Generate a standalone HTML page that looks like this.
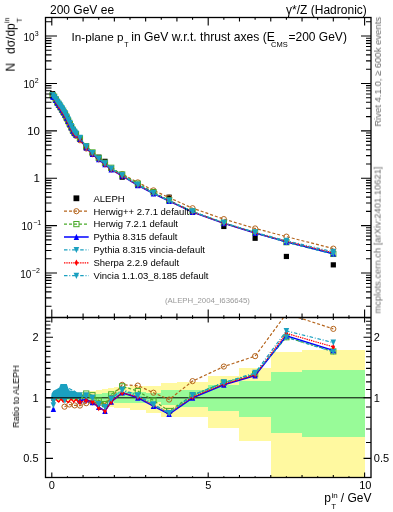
<!DOCTYPE html><html><head><meta charset="utf-8"><style>html,body{margin:0;padding:0;background:#fff;width:393px;height:512px;overflow:hidden}svg{display:block}text{will-change:transform}</style></head><body>
<svg width="393" height="512" viewBox="0 0 393 512" font-family="Liberation Sans, sans-serif">
<defs><clipPath id="cm"><rect x="45.5" y="17.5" width="325.5" height="300.0"/></clipPath>
<clipPath id="cr"><rect x="45.5" y="317.5" width="325.5" height="160.0"/></clipPath></defs>
<rect width="393" height="512" fill="#fff"/>
<g clip-path="url(#cr)" shape-rendering="crispEdges"><rect x="51.80" y="394.37" width="3.13" height="7.00" fill="#FFF9A0"/><rect x="54.93" y="394.37" width="3.13" height="7.00" fill="#FFF9A0"/><rect x="58.06" y="394.37" width="3.13" height="7.00" fill="#FFF9A0"/><rect x="61.18" y="394.37" width="3.13" height="7.00" fill="#FFF9A0"/><rect x="64.31" y="394.37" width="3.13" height="7.00" fill="#FFF9A0"/><rect x="67.44" y="394.37" width="3.13" height="7.00" fill="#FFF9A0"/><rect x="70.57" y="394.37" width="3.13" height="7.00" fill="#FFF9A0"/><rect x="73.70" y="394.37" width="3.13" height="7.00" fill="#FFF9A0"/><rect x="76.82" y="391.88" width="6.26" height="11.32" fill="#FFF9A0"/><rect x="83.08" y="391.88" width="6.26" height="11.32" fill="#FFF9A0"/><rect x="89.34" y="391.48" width="6.26" height="12.20" fill="#FFF9A0"/><rect x="95.59" y="390.27" width="6.26" height="15.11" fill="#FFF9A0"/><rect x="101.85" y="388.68" width="6.26" height="18.04" fill="#FFF9A0"/><rect x="108.10" y="387.89" width="6.26" height="18.83" fill="#FFF9A0"/><rect x="114.36" y="386.73" width="15.64" height="21.75" fill="#FFF9A0"/><rect x="130.00" y="386.34" width="15.64" height="23.63" fill="#FFF9A0"/><rect x="145.64" y="385.73" width="15.64" height="27.00" fill="#FFF9A0"/><rect x="161.28" y="382.81" width="15.64" height="34.39" fill="#FFF9A0"/><rect x="176.92" y="381.50" width="31.28" height="35.05" fill="#FFF9A0"/><rect x="208.20" y="375.54" width="31.28" height="52.33" fill="#FFF9A0"/><rect x="239.48" y="368.38" width="31.28" height="72.63" fill="#FFF9A0"/><rect x="270.76" y="351.92" width="31.28" height="128.20" fill="#FFF9A0"/><rect x="302.04" y="350.13" width="62.56" height="129.99" fill="#FFF9A0"/><rect x="51.80" y="396.07" width="3.13" height="3.50" fill="#98FB98"/><rect x="54.93" y="396.07" width="3.13" height="3.50" fill="#98FB98"/><rect x="58.06" y="396.07" width="3.13" height="3.50" fill="#98FB98"/><rect x="61.18" y="396.07" width="3.13" height="3.50" fill="#98FB98"/><rect x="64.31" y="396.07" width="3.13" height="3.50" fill="#98FB98"/><rect x="67.44" y="396.07" width="3.13" height="3.50" fill="#98FB98"/><rect x="70.57" y="396.07" width="3.13" height="3.50" fill="#98FB98"/><rect x="73.70" y="396.07" width="3.13" height="3.50" fill="#98FB98"/><rect x="76.82" y="395.22" width="6.26" height="5.25" fill="#98FB98"/><rect x="83.08" y="395.22" width="6.26" height="5.25" fill="#98FB98"/><rect x="89.34" y="394.79" width="6.26" height="6.12" fill="#98FB98"/><rect x="95.59" y="393.53" width="6.26" height="8.29" fill="#98FB98"/><rect x="101.85" y="392.71" width="6.26" height="9.58" fill="#98FB98"/><rect x="108.10" y="392.71" width="6.26" height="9.58" fill="#98FB98"/><rect x="114.36" y="392.29" width="15.64" height="10.45" fill="#98FB98"/><rect x="130.00" y="392.29" width="15.64" height="10.45" fill="#98FB98"/><rect x="145.64" y="393.04" width="15.64" height="9.43" fill="#98FB98"/><rect x="161.28" y="389.87" width="15.64" height="15.41" fill="#98FB98"/><rect x="176.92" y="390.43" width="31.28" height="16.49" fill="#98FB98"/><rect x="208.20" y="384.97" width="31.28" height="26.11" fill="#98FB98"/><rect x="239.48" y="380.56" width="31.28" height="36.10" fill="#98FB98"/><rect x="270.76" y="371.82" width="31.28" height="61.51" fill="#98FB98"/><rect x="302.04" y="370.02" width="62.56" height="67.21" fill="#98FB98"/></g>
<line x1="45.5" y1="397.80" x2="371.0" y2="397.80" stroke="#000" stroke-width="1"/>
<g clip-path="url(#cm)"><rect x="49.98" y="91.04" width="5.2" height="5.2" fill="#000"/><rect x="51.55" y="93.90" width="5.2" height="5.2" fill="#000"/><rect x="53.11" y="96.76" width="5.2" height="5.2" fill="#000"/><rect x="54.67" y="99.52" width="5.2" height="5.2" fill="#000"/><rect x="56.24" y="101.85" width="5.2" height="5.2" fill="#000"/><rect x="57.80" y="104.17" width="5.2" height="5.2" fill="#000"/><rect x="59.37" y="106.68" width="5.2" height="5.2" fill="#000"/><rect x="60.93" y="109.20" width="5.2" height="5.2" fill="#000"/><rect x="62.49" y="111.72" width="5.2" height="5.2" fill="#000"/><rect x="64.06" y="114.73" width="5.2" height="5.2" fill="#000"/><rect x="65.62" y="117.93" width="5.2" height="5.2" fill="#000"/><rect x="67.19" y="121.12" width="5.2" height="5.2" fill="#000"/><rect x="68.75" y="124.32" width="5.2" height="5.2" fill="#000"/><rect x="70.31" y="127.51" width="5.2" height="5.2" fill="#000"/><rect x="71.88" y="129.79" width="5.2" height="5.2" fill="#000"/><rect x="73.44" y="131.52" width="5.2" height="5.2" fill="#000"/><rect x="77.35" y="135.83" width="5.2" height="5.2" fill="#000"/><rect x="83.61" y="144.60" width="5.2" height="5.2" fill="#000"/><rect x="89.86" y="150.43" width="5.2" height="5.2" fill="#000"/><rect x="96.12" y="154.60" width="5.2" height="5.2" fill="#000"/><rect x="102.38" y="158.73" width="5.2" height="5.2" fill="#000"/><rect x="108.63" y="165.98" width="5.2" height="5.2" fill="#000"/><rect x="119.58" y="174.56" width="5.2" height="5.2" fill="#000"/><rect x="135.22" y="182.67" width="5.2" height="5.2" fill="#000"/><rect x="150.86" y="188.97" width="5.2" height="5.2" fill="#000"/><rect x="166.50" y="194.61" width="5.2" height="5.2" fill="#000"/><rect x="189.96" y="209.54" width="5.2" height="5.2" fill="#000"/><rect x="221.24" y="223.86" width="5.2" height="5.2" fill="#000"/><rect x="252.52" y="235.66" width="5.2" height="5.2" fill="#000"/><rect x="283.80" y="253.86" width="5.2" height="5.2" fill="#000"/><rect x="330.72" y="262.25" width="5.2" height="5.2" fill="#000"/></g>
<g clip-path="url(#cm)"><path d="M52.58,94.70 L54.15,97.34 L55.71,100.20 L57.27,103.17 L58.84,105.50 L60.40,108.05 L61.97,110.77 L63.53,113.51 L65.09,116.26 L66.66,119.50 L68.22,122.70 L69.79,125.66 L71.35,128.86 L72.91,132.05 L74.48,134.11 L76.04,135.84 L79.95,140.26 L86.21,148.48 L92.46,154.09 L98.72,158.48 L104.98,162.82 L111.23,168.58 L122.18,174.10 L137.82,182.39 L153.46,190.37 L169.10,197.63 L192.56,208.22 L223.84,219.09 L255.12,228.45 L286.40,236.63 L333.32,248.62" fill="none" stroke="#B5651D" stroke-width="1.2" stroke-dasharray="3,2"/><circle cx="52.58" cy="94.70" r="2.6" fill="none" stroke="#B5651D" stroke-width="1"/><circle cx="54.15" cy="97.34" r="2.6" fill="none" stroke="#B5651D" stroke-width="1"/><circle cx="55.71" cy="100.20" r="2.6" fill="none" stroke="#B5651D" stroke-width="1"/><circle cx="57.27" cy="103.17" r="2.6" fill="none" stroke="#B5651D" stroke-width="1"/><circle cx="58.84" cy="105.50" r="2.6" fill="none" stroke="#B5651D" stroke-width="1"/><circle cx="60.40" cy="108.05" r="2.6" fill="none" stroke="#B5651D" stroke-width="1"/><circle cx="61.97" cy="110.77" r="2.6" fill="none" stroke="#B5651D" stroke-width="1"/><circle cx="63.53" cy="113.51" r="2.6" fill="none" stroke="#B5651D" stroke-width="1"/><circle cx="65.09" cy="116.26" r="2.6" fill="none" stroke="#B5651D" stroke-width="1"/><circle cx="66.66" cy="119.50" r="2.6" fill="none" stroke="#B5651D" stroke-width="1"/><circle cx="68.22" cy="122.70" r="2.6" fill="none" stroke="#B5651D" stroke-width="1"/><circle cx="69.79" cy="125.66" r="2.6" fill="none" stroke="#B5651D" stroke-width="1"/><circle cx="71.35" cy="128.86" r="2.6" fill="none" stroke="#B5651D" stroke-width="1"/><circle cx="72.91" cy="132.05" r="2.6" fill="none" stroke="#B5651D" stroke-width="1"/><circle cx="74.48" cy="134.11" r="2.6" fill="none" stroke="#B5651D" stroke-width="1"/><circle cx="76.04" cy="135.84" r="2.6" fill="none" stroke="#B5651D" stroke-width="1"/><circle cx="79.95" cy="140.26" r="2.6" fill="none" stroke="#B5651D" stroke-width="1"/><circle cx="86.21" cy="148.48" r="2.6" fill="none" stroke="#B5651D" stroke-width="1"/><circle cx="92.46" cy="154.09" r="2.6" fill="none" stroke="#B5651D" stroke-width="1"/><circle cx="98.72" cy="158.48" r="2.6" fill="none" stroke="#B5651D" stroke-width="1"/><circle cx="104.98" cy="162.82" r="2.6" fill="none" stroke="#B5651D" stroke-width="1"/><circle cx="111.23" cy="168.58" r="2.6" fill="none" stroke="#B5651D" stroke-width="1"/><circle cx="122.18" cy="174.10" r="2.6" fill="none" stroke="#B5651D" stroke-width="1"/><circle cx="137.82" cy="182.39" r="2.6" fill="none" stroke="#B5651D" stroke-width="1"/><circle cx="153.46" cy="190.37" r="2.6" fill="none" stroke="#B5651D" stroke-width="1"/><circle cx="169.10" cy="197.63" r="2.6" fill="none" stroke="#B5651D" stroke-width="1"/><circle cx="192.56" cy="208.22" r="2.6" fill="none" stroke="#B5651D" stroke-width="1"/><circle cx="223.84" cy="219.09" r="2.6" fill="none" stroke="#B5651D" stroke-width="1"/><circle cx="255.12" cy="228.45" r="2.6" fill="none" stroke="#B5651D" stroke-width="1"/><circle cx="286.40" cy="236.63" r="2.6" fill="none" stroke="#B5651D" stroke-width="1"/><circle cx="333.32" cy="248.62" r="2.6" fill="none" stroke="#B5651D" stroke-width="1"/></g>
<g clip-path="url(#cm)"><path d="M52.58,95.13 L54.15,96.71 L55.71,99.56 L57.27,102.32 L58.84,104.65 L60.40,106.98 L61.97,109.49 L63.53,112.01 L65.09,114.52 L66.66,117.54 L68.22,120.74 L69.79,123.93 L71.35,127.12 L72.91,130.32 L74.48,132.60 L76.04,134.33 L79.95,138.43 L86.21,146.20 L92.46,152.42 L98.72,157.83 L104.98,162.82 L111.23,167.77 L122.18,174.46 L137.82,183.68 L153.46,192.20 L169.10,200.31 L192.56,211.53 L223.84,222.87 L255.12,232.70 L286.40,242.19 L333.32,253.93" fill="none" stroke="#4AAA2A" stroke-width="1.2" stroke-dasharray="3,2"/><rect x="49.98" y="92.53" width="5.2" height="5.2" fill="none" stroke="#4AAA2A" stroke-width="1"/><rect x="51.55" y="94.11" width="5.2" height="5.2" fill="none" stroke="#4AAA2A" stroke-width="1"/><rect x="53.11" y="96.96" width="5.2" height="5.2" fill="none" stroke="#4AAA2A" stroke-width="1"/><rect x="54.67" y="99.72" width="5.2" height="5.2" fill="none" stroke="#4AAA2A" stroke-width="1"/><rect x="56.24" y="102.05" width="5.2" height="5.2" fill="none" stroke="#4AAA2A" stroke-width="1"/><rect x="57.80" y="104.38" width="5.2" height="5.2" fill="none" stroke="#4AAA2A" stroke-width="1"/><rect x="59.37" y="106.89" width="5.2" height="5.2" fill="none" stroke="#4AAA2A" stroke-width="1"/><rect x="60.93" y="109.41" width="5.2" height="5.2" fill="none" stroke="#4AAA2A" stroke-width="1"/><rect x="62.49" y="111.92" width="5.2" height="5.2" fill="none" stroke="#4AAA2A" stroke-width="1"/><rect x="64.06" y="114.94" width="5.2" height="5.2" fill="none" stroke="#4AAA2A" stroke-width="1"/><rect x="65.62" y="118.14" width="5.2" height="5.2" fill="none" stroke="#4AAA2A" stroke-width="1"/><rect x="67.19" y="121.33" width="5.2" height="5.2" fill="none" stroke="#4AAA2A" stroke-width="1"/><rect x="68.75" y="124.52" width="5.2" height="5.2" fill="none" stroke="#4AAA2A" stroke-width="1"/><rect x="70.31" y="127.72" width="5.2" height="5.2" fill="none" stroke="#4AAA2A" stroke-width="1"/><rect x="71.88" y="130.00" width="5.2" height="5.2" fill="none" stroke="#4AAA2A" stroke-width="1"/><rect x="73.44" y="131.73" width="5.2" height="5.2" fill="none" stroke="#4AAA2A" stroke-width="1"/><rect x="77.35" y="135.83" width="5.2" height="5.2" fill="none" stroke="#4AAA2A" stroke-width="1"/><rect x="83.61" y="143.60" width="5.2" height="5.2" fill="none" stroke="#4AAA2A" stroke-width="1"/><rect x="89.86" y="149.82" width="5.2" height="5.2" fill="none" stroke="#4AAA2A" stroke-width="1"/><rect x="96.12" y="155.23" width="5.2" height="5.2" fill="none" stroke="#4AAA2A" stroke-width="1"/><rect x="102.38" y="160.22" width="5.2" height="5.2" fill="none" stroke="#4AAA2A" stroke-width="1"/><rect x="108.63" y="165.17" width="5.2" height="5.2" fill="none" stroke="#4AAA2A" stroke-width="1"/><rect x="119.58" y="171.86" width="5.2" height="5.2" fill="none" stroke="#4AAA2A" stroke-width="1"/><rect x="135.22" y="181.08" width="5.2" height="5.2" fill="none" stroke="#4AAA2A" stroke-width="1"/><rect x="150.86" y="189.60" width="5.2" height="5.2" fill="none" stroke="#4AAA2A" stroke-width="1"/><rect x="166.50" y="197.71" width="5.2" height="5.2" fill="none" stroke="#4AAA2A" stroke-width="1"/><rect x="189.96" y="208.93" width="5.2" height="5.2" fill="none" stroke="#4AAA2A" stroke-width="1"/><rect x="221.24" y="220.27" width="5.2" height="5.2" fill="none" stroke="#4AAA2A" stroke-width="1"/><rect x="252.52" y="230.10" width="5.2" height="5.2" fill="none" stroke="#4AAA2A" stroke-width="1"/><rect x="283.80" y="239.59" width="5.2" height="5.2" fill="none" stroke="#4AAA2A" stroke-width="1"/><rect x="330.72" y="251.33" width="5.2" height="5.2" fill="none" stroke="#4AAA2A" stroke-width="1"/></g>
<g clip-path="url(#cm)"><path d="M52.58,96.51 L54.15,97.13 L55.71,99.98 L57.27,102.75 L58.84,105.07 L60.40,107.40 L61.97,109.91 L63.53,112.43 L65.09,114.94 L66.66,117.96 L68.22,121.16 L69.79,124.35 L71.35,127.54 L72.91,130.74 L74.48,133.02 L76.04,134.75 L79.95,139.06 L86.21,147.62 L92.46,154.09 L98.72,159.37 L104.98,164.43 L111.23,169.53 L122.18,175.96 L137.82,185.27 L153.46,193.51 L169.10,201.05 L192.56,212.14 L223.84,223.40 L255.12,233.02 L286.40,241.88 L333.32,253.69" fill="none" stroke="#0000FF" stroke-width="1.5"/><path d="M52.58,93.21L55.28,99.41L49.88,99.41Z" fill="#0000FF"/><path d="M54.15,93.83L56.85,100.03L51.45,100.03Z" fill="#0000FF"/><path d="M55.71,96.68L58.41,102.88L53.01,102.88Z" fill="#0000FF"/><path d="M57.27,99.45L59.97,105.65L54.57,105.65Z" fill="#0000FF"/><path d="M58.84,101.77L61.54,107.97L56.14,107.97Z" fill="#0000FF"/><path d="M60.40,104.10L63.10,110.30L57.70,110.30Z" fill="#0000FF"/><path d="M61.97,106.61L64.67,112.81L59.27,112.81Z" fill="#0000FF"/><path d="M63.53,109.13L66.23,115.33L60.83,115.33Z" fill="#0000FF"/><path d="M65.09,111.64L67.79,117.84L62.39,117.84Z" fill="#0000FF"/><path d="M66.66,114.66L69.36,120.86L63.96,120.86Z" fill="#0000FF"/><path d="M68.22,117.86L70.92,124.06L65.52,124.06Z" fill="#0000FF"/><path d="M69.79,121.05L72.49,127.25L67.09,127.25Z" fill="#0000FF"/><path d="M71.35,124.24L74.05,130.44L68.65,130.44Z" fill="#0000FF"/><path d="M72.91,127.44L75.61,133.64L70.21,133.64Z" fill="#0000FF"/><path d="M74.48,129.72L77.18,135.92L71.78,135.92Z" fill="#0000FF"/><path d="M76.04,131.45L78.74,137.65L73.34,137.65Z" fill="#0000FF"/><path d="M79.95,135.76L82.65,141.96L77.25,141.96Z" fill="#0000FF"/><path d="M86.21,144.32L88.91,150.52L83.51,150.52Z" fill="#0000FF"/><path d="M92.46,150.79L95.16,156.99L89.76,156.99Z" fill="#0000FF"/><path d="M98.72,156.07L101.42,162.27L96.02,162.27Z" fill="#0000FF"/><path d="M104.98,161.13L107.68,167.33L102.28,167.33Z" fill="#0000FF"/><path d="M111.23,166.23L113.93,172.43L108.53,172.43Z" fill="#0000FF"/><path d="M122.18,172.66L124.88,178.86L119.48,178.86Z" fill="#0000FF"/><path d="M137.82,181.97L140.52,188.17L135.12,188.17Z" fill="#0000FF"/><path d="M153.46,190.21L156.16,196.41L150.76,196.41Z" fill="#0000FF"/><path d="M169.10,197.75L171.80,203.95L166.40,203.95Z" fill="#0000FF"/><path d="M192.56,208.84L195.26,215.04L189.86,215.04Z" fill="#0000FF"/><path d="M223.84,220.10L226.54,226.30L221.14,226.30Z" fill="#0000FF"/><path d="M255.12,229.72L257.82,235.92L252.42,235.92Z" fill="#0000FF"/><path d="M286.40,238.58L289.10,244.78L283.70,244.78Z" fill="#0000FF"/><path d="M333.32,250.39L336.02,256.59L330.62,256.59Z" fill="#0000FF"/></g>
<g clip-path="url(#cm)"><path d="M52.58,95.13 L54.15,96.91 L55.71,100.20 L57.27,102.53 L58.84,105.50 L60.40,107.19 L61.97,110.12 L63.53,112.43 L65.09,115.37 L66.66,117.75 L68.22,121.58 L69.79,124.35 L71.35,127.97 L72.91,130.74 L74.48,133.45 L76.04,134.96 L79.95,139.49 L86.21,147.83 L92.46,153.98 L98.72,159.60 L104.98,164.43 L111.23,169.53 L122.18,175.96 L137.82,185.06 L153.46,193.29 L169.10,200.80 L192.56,211.94 L223.84,223.22 L255.12,232.86 L286.40,241.29 L333.32,252.86" fill="none" stroke="#FF0000" stroke-width="1.2" stroke-dasharray="1.4,0.9"/><path d="M52.58,91.93L54.38,95.13L52.58,98.33L50.78,95.13Z" fill="#FF0000"/><path d="M54.15,93.71L55.95,96.91L54.15,100.11L52.35,96.91Z" fill="#FF0000"/><path d="M55.71,97.00L57.51,100.20L55.71,103.40L53.91,100.20Z" fill="#FF0000"/><path d="M57.27,99.33L59.07,102.53L57.27,105.73L55.47,102.53Z" fill="#FF0000"/><path d="M58.84,102.30L60.64,105.50L58.84,108.70L57.04,105.50Z" fill="#FF0000"/><path d="M60.40,103.99L62.20,107.19L60.40,110.39L58.60,107.19Z" fill="#FF0000"/><path d="M61.97,106.92L63.77,110.12L61.97,113.32L60.17,110.12Z" fill="#FF0000"/><path d="M63.53,109.23L65.33,112.43L63.53,115.63L61.73,112.43Z" fill="#FF0000"/><path d="M65.09,112.17L66.89,115.37L65.09,118.57L63.29,115.37Z" fill="#FF0000"/><path d="M66.66,114.55L68.46,117.75L66.66,120.95L64.86,117.75Z" fill="#FF0000"/><path d="M68.22,118.38L70.02,121.58L68.22,124.78L66.42,121.58Z" fill="#FF0000"/><path d="M69.79,121.15L71.59,124.35L69.79,127.55L67.99,124.35Z" fill="#FF0000"/><path d="M71.35,124.77L73.15,127.97L71.35,131.17L69.55,127.97Z" fill="#FF0000"/><path d="M72.91,127.54L74.71,130.74L72.91,133.94L71.11,130.74Z" fill="#FF0000"/><path d="M74.48,130.25L76.28,133.45L74.48,136.65L72.68,133.45Z" fill="#FF0000"/><path d="M76.04,131.76L77.84,134.96L76.04,138.16L74.24,134.96Z" fill="#FF0000"/><path d="M79.95,136.29L81.75,139.49L79.95,142.69L78.15,139.49Z" fill="#FF0000"/><path d="M86.21,144.63L88.01,147.83L86.21,151.03L84.41,147.83Z" fill="#FF0000"/><path d="M92.46,150.78L94.26,153.98L92.46,157.18L90.66,153.98Z" fill="#FF0000"/><path d="M98.72,156.40L100.52,159.60L98.72,162.80L96.92,159.60Z" fill="#FF0000"/><path d="M104.98,161.23L106.78,164.43L104.98,167.63L103.18,164.43Z" fill="#FF0000"/><path d="M111.23,166.33L113.03,169.53L111.23,172.73L109.43,169.53Z" fill="#FF0000"/><path d="M122.18,172.76L123.98,175.96L122.18,179.16L120.38,175.96Z" fill="#FF0000"/><path d="M137.82,181.86L139.62,185.06L137.82,188.26L136.02,185.06Z" fill="#FF0000"/><path d="M153.46,190.09L155.26,193.29L153.46,196.49L151.66,193.29Z" fill="#FF0000"/><path d="M169.10,197.60L170.90,200.80L169.10,204.00L167.30,200.80Z" fill="#FF0000"/><path d="M192.56,208.74L194.36,211.94L192.56,215.14L190.76,211.94Z" fill="#FF0000"/><path d="M223.84,220.02L225.64,223.22L223.84,226.42L222.04,223.22Z" fill="#FF0000"/><path d="M255.12,229.66L256.92,232.86L255.12,236.06L253.32,232.86Z" fill="#FF0000"/><path d="M286.40,238.09L288.20,241.29L286.40,244.49L284.60,241.29Z" fill="#FF0000"/><path d="M333.32,249.66L335.12,252.86L333.32,256.06L331.52,252.86Z" fill="#FF0000"/></g>
<g clip-path="url(#cm)"><path d="M52.58,95.81 L54.15,97.34 L55.71,99.56 L57.27,102.12 L58.84,104.24 L60.40,106.57 L61.97,109.08 L63.53,111.59 L65.09,114.11 L66.66,117.13 L68.22,120.32 L69.79,123.52 L71.35,126.71 L72.91,129.91 L74.48,132.19 L76.04,133.91 L79.95,138.23 L86.21,146.80 L92.46,153.03 L98.72,158.70 L104.98,163.50 L111.23,168.79 L122.18,175.39 L137.82,184.86 L153.46,193.29 L169.10,200.80 L192.56,211.53 L223.84,222.87 L255.12,232.39 L286.40,240.70 L333.32,251.85" fill="none" stroke="#1AA0C0" stroke-width="1.2" stroke-dasharray="3.5,1.8,1,1.8"/><path d="M49.78,92.81L55.38,92.81L52.58,99.01Z" fill="#1AA0C0"/><path d="M51.35,94.34L56.95,94.34L54.15,100.54Z" fill="#1AA0C0"/><path d="M52.91,96.56L58.51,96.56L55.71,102.76Z" fill="#1AA0C0"/><path d="M54.47,99.12L60.07,99.12L57.27,105.32Z" fill="#1AA0C0"/><path d="M56.04,101.24L61.64,101.24L58.84,107.44Z" fill="#1AA0C0"/><path d="M57.60,103.57L63.20,103.57L60.40,109.77Z" fill="#1AA0C0"/><path d="M59.17,106.08L64.77,106.08L61.97,112.28Z" fill="#1AA0C0"/><path d="M60.73,108.59L66.33,108.59L63.53,114.79Z" fill="#1AA0C0"/><path d="M62.29,111.11L67.89,111.11L65.09,117.31Z" fill="#1AA0C0"/><path d="M63.86,114.13L69.46,114.13L66.66,120.33Z" fill="#1AA0C0"/><path d="M65.42,117.32L71.02,117.32L68.22,123.52Z" fill="#1AA0C0"/><path d="M66.99,120.52L72.59,120.52L69.79,126.72Z" fill="#1AA0C0"/><path d="M68.55,123.71L74.15,123.71L71.35,129.91Z" fill="#1AA0C0"/><path d="M70.11,126.91L75.71,126.91L72.91,133.11Z" fill="#1AA0C0"/><path d="M71.68,129.19L77.28,129.19L74.48,135.39Z" fill="#1AA0C0"/><path d="M73.24,130.91L78.84,130.91L76.04,137.11Z" fill="#1AA0C0"/><path d="M77.15,135.23L82.75,135.23L79.95,141.43Z" fill="#1AA0C0"/><path d="M83.41,143.80L89.01,143.80L86.21,150.00Z" fill="#1AA0C0"/><path d="M89.66,150.03L95.26,150.03L92.46,156.23Z" fill="#1AA0C0"/><path d="M95.92,155.70L101.52,155.70L98.72,161.90Z" fill="#1AA0C0"/><path d="M102.18,160.50L107.78,160.50L104.98,166.70Z" fill="#1AA0C0"/><path d="M108.43,165.79L114.03,165.79L111.23,171.99Z" fill="#1AA0C0"/><path d="M119.38,172.39L124.98,172.39L122.18,178.59Z" fill="#1AA0C0"/><path d="M135.02,181.86L140.62,181.86L137.82,188.06Z" fill="#1AA0C0"/><path d="M150.66,190.29L156.26,190.29L153.46,196.49Z" fill="#1AA0C0"/><path d="M166.30,197.80L171.90,197.80L169.10,204.00Z" fill="#1AA0C0"/><path d="M189.76,208.53L195.36,208.53L192.56,214.73Z" fill="#1AA0C0"/><path d="M221.04,219.87L226.64,219.87L223.84,226.07Z" fill="#1AA0C0"/><path d="M252.32,229.39L257.92,229.39L255.12,235.59Z" fill="#1AA0C0"/><path d="M283.60,237.70L289.20,237.70L286.40,243.90Z" fill="#1AA0C0"/><path d="M330.52,248.85L336.12,248.85L333.32,255.05Z" fill="#1AA0C0"/></g>
<g clip-path="url(#cm)"><path d="M52.58,95.36 L54.15,96.91 L55.71,99.15 L57.27,101.51 L58.84,103.44 L60.40,105.57 L61.97,108.08 L63.53,110.60 L65.09,113.12 L66.66,116.14 L68.22,119.52 L69.79,122.72 L71.35,125.91 L72.91,129.30 L74.48,131.59 L76.04,133.51 L79.95,137.83 L86.21,146.59 L92.46,153.03 L98.72,158.70 L104.98,163.50 L111.23,168.79 L122.18,175.20 L137.82,184.66 L153.46,193.06 L169.10,200.80 L192.56,211.53 L223.84,222.87 L255.12,232.54 L286.40,242.19 L333.32,254.05" fill="none" stroke="#1AA0C0" stroke-width="1.2" stroke-dasharray="3.5,1.8,1,1.8"/><path d="M49.78,92.36L55.38,92.36L52.58,98.56Z" fill="#1AA0C0"/><path d="M51.35,93.91L56.95,93.91L54.15,100.11Z" fill="#1AA0C0"/><path d="M52.91,96.15L58.51,96.15L55.71,102.35Z" fill="#1AA0C0"/><path d="M54.47,98.51L60.07,98.51L57.27,104.71Z" fill="#1AA0C0"/><path d="M56.04,100.44L61.64,100.44L58.84,106.64Z" fill="#1AA0C0"/><path d="M57.60,102.57L63.20,102.57L60.40,108.77Z" fill="#1AA0C0"/><path d="M59.17,105.08L64.77,105.08L61.97,111.28Z" fill="#1AA0C0"/><path d="M60.73,107.60L66.33,107.60L63.53,113.80Z" fill="#1AA0C0"/><path d="M62.29,110.12L67.89,110.12L65.09,116.32Z" fill="#1AA0C0"/><path d="M63.86,113.14L69.46,113.14L66.66,119.34Z" fill="#1AA0C0"/><path d="M65.42,116.52L71.02,116.52L68.22,122.72Z" fill="#1AA0C0"/><path d="M66.99,119.72L72.59,119.72L69.79,125.92Z" fill="#1AA0C0"/><path d="M68.55,122.91L74.15,122.91L71.35,129.11Z" fill="#1AA0C0"/><path d="M70.11,126.30L75.71,126.30L72.91,132.50Z" fill="#1AA0C0"/><path d="M71.68,128.59L77.28,128.59L74.48,134.79Z" fill="#1AA0C0"/><path d="M73.24,130.51L78.84,130.51L76.04,136.71Z" fill="#1AA0C0"/><path d="M77.15,134.83L82.75,134.83L79.95,141.03Z" fill="#1AA0C0"/><path d="M83.41,143.59L89.01,143.59L86.21,149.79Z" fill="#1AA0C0"/><path d="M89.66,150.03L95.26,150.03L92.46,156.23Z" fill="#1AA0C0"/><path d="M95.92,155.70L101.52,155.70L98.72,161.90Z" fill="#1AA0C0"/><path d="M102.18,160.50L107.78,160.50L104.98,166.70Z" fill="#1AA0C0"/><path d="M108.43,165.79L114.03,165.79L111.23,171.99Z" fill="#1AA0C0"/><path d="M119.38,172.20L124.98,172.20L122.18,178.40Z" fill="#1AA0C0"/><path d="M135.02,181.66L140.62,181.66L137.82,187.86Z" fill="#1AA0C0"/><path d="M150.66,190.06L156.26,190.06L153.46,196.26Z" fill="#1AA0C0"/><path d="M166.30,197.80L171.90,197.80L169.10,204.00Z" fill="#1AA0C0"/><path d="M189.76,208.53L195.36,208.53L192.56,214.73Z" fill="#1AA0C0"/><path d="M221.04,219.87L226.64,219.87L223.84,226.07Z" fill="#1AA0C0"/><path d="M252.32,229.54L257.92,229.54L255.12,235.74Z" fill="#1AA0C0"/><path d="M283.60,239.19L289.20,239.19L286.40,245.39Z" fill="#1AA0C0"/><path d="M330.52,251.05L336.12,251.05L333.32,257.25Z" fill="#1AA0C0"/></g>
<g clip-path="url(#cr)"><path d="M64.50,406.70 L69.40,404.50 L74.70,405.40 L79.95,405.57 L86.21,403.21 L92.46,402.28 L98.72,403.21 L104.98,404.14 L111.23,397.80 L122.18,384.82 L137.82,385.58 L153.46,392.71 L169.10,399.57 L192.56,381.13 L223.84,366.53 L255.12,356.16 L286.40,313.59 L333.32,328.87" fill="none" stroke="#B5651D" stroke-width="1.2" stroke-dasharray="3,2"/><circle cx="64.50" cy="406.70" r="2.6" fill="none" stroke="#B5651D" stroke-width="1"/><circle cx="69.40" cy="404.50" r="2.6" fill="none" stroke="#B5651D" stroke-width="1"/><circle cx="74.70" cy="405.40" r="2.6" fill="none" stroke="#B5651D" stroke-width="1"/><circle cx="79.95" cy="405.57" r="2.6" fill="none" stroke="#B5651D" stroke-width="1"/><circle cx="86.21" cy="403.21" r="2.6" fill="none" stroke="#B5651D" stroke-width="1"/><circle cx="92.46" cy="402.28" r="2.6" fill="none" stroke="#B5651D" stroke-width="1"/><circle cx="98.72" cy="403.21" r="2.6" fill="none" stroke="#B5651D" stroke-width="1"/><circle cx="104.98" cy="404.14" r="2.6" fill="none" stroke="#B5651D" stroke-width="1"/><circle cx="111.23" cy="397.80" r="2.6" fill="none" stroke="#B5651D" stroke-width="1"/><circle cx="122.18" cy="384.82" r="2.6" fill="none" stroke="#B5651D" stroke-width="1"/><circle cx="137.82" cy="385.58" r="2.6" fill="none" stroke="#B5651D" stroke-width="1"/><circle cx="153.46" cy="392.71" r="2.6" fill="none" stroke="#B5651D" stroke-width="1"/><circle cx="169.10" cy="399.57" r="2.6" fill="none" stroke="#B5651D" stroke-width="1"/><circle cx="192.56" cy="381.13" r="2.6" fill="none" stroke="#B5651D" stroke-width="1"/><circle cx="223.84" cy="366.53" r="2.6" fill="none" stroke="#B5651D" stroke-width="1"/><circle cx="255.12" cy="356.16" r="2.6" fill="none" stroke="#B5651D" stroke-width="1"/><circle cx="286.40" cy="313.59" r="2.6" fill="none" stroke="#B5651D" stroke-width="1"/><circle cx="333.32" cy="328.87" r="2.6" fill="none" stroke="#B5651D" stroke-width="1"/></g>
<g clip-path="url(#cr)"><path d="M51.00,399.00 L60.00,398.50 L70.00,398.50 L79.95,397.80 L86.21,393.53 L92.46,395.22 L98.72,400.46 L104.98,404.14 L111.23,394.37 L122.18,386.34 L137.82,391.07 L153.46,400.46 L169.10,410.99 L192.56,395.22 L223.84,382.59 L255.12,374.19 L286.40,337.20 L333.32,351.41" fill="none" stroke="#4AAA2A" stroke-width="1.2" stroke-dasharray="3,2"/><rect x="77.35" y="395.20" width="5.2" height="5.2" fill="none" stroke="#4AAA2A" stroke-width="1"/><rect x="83.61" y="390.93" width="5.2" height="5.2" fill="none" stroke="#4AAA2A" stroke-width="1"/><rect x="89.86" y="392.62" width="5.2" height="5.2" fill="none" stroke="#4AAA2A" stroke-width="1"/><rect x="96.12" y="397.86" width="5.2" height="5.2" fill="none" stroke="#4AAA2A" stroke-width="1"/><rect x="102.38" y="401.54" width="5.2" height="5.2" fill="none" stroke="#4AAA2A" stroke-width="1"/><rect x="108.63" y="391.77" width="5.2" height="5.2" fill="none" stroke="#4AAA2A" stroke-width="1"/><rect x="119.58" y="383.74" width="5.2" height="5.2" fill="none" stroke="#4AAA2A" stroke-width="1"/><rect x="135.22" y="388.47" width="5.2" height="5.2" fill="none" stroke="#4AAA2A" stroke-width="1"/><rect x="150.86" y="397.86" width="5.2" height="5.2" fill="none" stroke="#4AAA2A" stroke-width="1"/><rect x="166.50" y="408.39" width="5.2" height="5.2" fill="none" stroke="#4AAA2A" stroke-width="1"/><rect x="189.96" y="392.62" width="5.2" height="5.2" fill="none" stroke="#4AAA2A" stroke-width="1"/><rect x="221.24" y="379.99" width="5.2" height="5.2" fill="none" stroke="#4AAA2A" stroke-width="1"/><rect x="252.52" y="371.59" width="5.2" height="5.2" fill="none" stroke="#4AAA2A" stroke-width="1"/><rect x="283.80" y="334.60" width="5.2" height="5.2" fill="none" stroke="#4AAA2A" stroke-width="1"/><rect x="330.72" y="348.81" width="5.2" height="5.2" fill="none" stroke="#4AAA2A" stroke-width="1"/></g>
<g clip-path="url(#cr)"><path d="M79.95,400.46 L86.21,399.57 L92.46,402.28 L98.72,407.01 L104.98,410.99 L111.23,401.83 L122.18,392.71 L137.82,397.80 L153.46,406.05 L169.10,414.09 L192.56,397.80 L223.84,384.82 L255.12,375.54 L286.40,335.90 L333.32,350.39" fill="none" stroke="#0000FF" stroke-width="1.5"/><path d="M53.40,405.70L56.10,411.90L50.70,411.90Z" fill="#0000FF"/><path d="M79.95,397.16L82.65,403.36L77.25,403.36Z" fill="#0000FF"/><path d="M86.21,396.27L88.91,402.47L83.51,402.47Z" fill="#0000FF"/><path d="M92.46,398.98L95.16,405.18L89.76,405.18Z" fill="#0000FF"/><path d="M98.72,403.71L101.42,409.91L96.02,409.91Z" fill="#0000FF"/><path d="M104.98,407.69L107.68,413.89L102.28,413.89Z" fill="#0000FF"/><path d="M111.23,398.53L113.93,404.73L108.53,404.73Z" fill="#0000FF"/><path d="M122.18,389.41L124.88,395.61L119.48,395.61Z" fill="#0000FF"/><path d="M137.82,394.50L140.52,400.70L135.12,400.70Z" fill="#0000FF"/><path d="M153.46,402.75L156.16,408.95L150.76,408.95Z" fill="#0000FF"/><path d="M169.10,410.79L171.80,416.99L166.40,416.99Z" fill="#0000FF"/><path d="M192.56,394.50L195.26,400.70L189.86,400.70Z" fill="#0000FF"/><path d="M223.84,381.52L226.54,387.72L221.14,387.72Z" fill="#0000FF"/><path d="M255.12,372.24L257.82,378.44L252.42,378.44Z" fill="#0000FF"/><path d="M286.40,332.60L289.10,338.80L283.70,338.80Z" fill="#0000FF"/><path d="M333.32,347.09L336.02,353.29L330.62,353.29Z" fill="#0000FF"/></g>
<g clip-path="url(#cr)"><path d="M51.50,400.50 L55.00,398.60 L58.70,402.00 L61.00,398.80 L63.00,401.50 L64.60,390.50 L66.50,401.20 L68.50,402.30 L71.00,398.80 L73.80,402.00 L76.00,399.20 L78.20,402.00 L79.95,402.28 L86.21,400.46 L92.46,401.83 L98.72,407.99 L104.98,410.99 L111.23,401.83 L122.18,392.71 L137.82,396.93 L153.46,405.09 L169.10,413.04 L192.56,396.93 L223.84,384.07 L255.12,374.86 L286.40,333.35 L333.32,346.90" fill="none" stroke="#FF0000" stroke-width="1.2" stroke-dasharray="1.4,0.9"/><path d="M51.50,400.50 L55.00,398.60 L58.70,402.00 L61.00,398.80 L63.00,401.50 L64.60,390.50 L66.50,401.20 L68.50,402.30 L71.00,398.80 L73.80,402.00 L76.00,399.20 L78.20,402.00" fill="none" stroke="#FF0000" stroke-width="1.3"/><path d="M79.95,399.08L81.75,402.28L79.95,405.48L78.15,402.28Z" fill="#FF0000"/><path d="M86.21,397.26L88.01,400.46L86.21,403.66L84.41,400.46Z" fill="#FF0000"/><path d="M92.46,398.63L94.26,401.83L92.46,405.03L90.66,401.83Z" fill="#FF0000"/><path d="M98.72,404.79L100.52,407.99L98.72,411.19L96.92,407.99Z" fill="#FF0000"/><path d="M104.98,407.79L106.78,410.99L104.98,414.19L103.18,410.99Z" fill="#FF0000"/><path d="M111.23,398.63L113.03,401.83L111.23,405.03L109.43,401.83Z" fill="#FF0000"/><path d="M122.18,389.51L123.98,392.71L122.18,395.91L120.38,392.71Z" fill="#FF0000"/><path d="M137.82,393.73L139.62,396.93L137.82,400.13L136.02,396.93Z" fill="#FF0000"/><path d="M153.46,401.89L155.26,405.09L153.46,408.29L151.66,405.09Z" fill="#FF0000"/><path d="M169.10,409.84L170.90,413.04L169.10,416.24L167.30,413.04Z" fill="#FF0000"/><path d="M192.56,393.73L194.36,396.93L192.56,400.13L190.76,396.93Z" fill="#FF0000"/><path d="M223.84,380.87L225.64,384.07L223.84,387.27L222.04,384.07Z" fill="#FF0000"/><path d="M255.12,371.66L256.92,374.86L255.12,378.06L253.32,374.86Z" fill="#FF0000"/><path d="M286.40,330.15L288.20,333.35L286.40,336.55L284.60,333.35Z" fill="#FF0000"/><path d="M333.32,343.70L335.12,346.90L333.32,350.10L331.52,346.90Z" fill="#FF0000"/></g>
<g clip-path="url(#cr)"><path d="M53.40,403.50 L58.00,394.00 L64.90,400.50 L70.00,394.50 L76.00,394.50 L79.95,396.93 L86.21,396.07 L92.46,397.80 L98.72,404.14 L104.98,407.01 L111.23,398.68 L122.18,390.27 L137.82,396.07 L153.46,405.09 L169.10,413.04 L192.56,395.22 L223.84,382.59 L255.12,372.87 L286.40,330.88 L333.32,342.61" fill="none" stroke="#1AA0C0" stroke-width="1.2" stroke-dasharray="3.5,1.8,1,1.8"/><path d="M50.60,402.20L56.20,402.20L53.40,408.40Z" fill="#1AA0C0"/><path d="M62.10,397.60L67.70,397.60L64.90,403.80Z" fill="#1AA0C0"/><path d="M77.15,393.93L82.75,393.93L79.95,400.13Z" fill="#1AA0C0"/><path d="M83.41,393.07L89.01,393.07L86.21,399.27Z" fill="#1AA0C0"/><path d="M89.66,394.80L95.26,394.80L92.46,401.00Z" fill="#1AA0C0"/><path d="M95.92,401.14L101.52,401.14L98.72,407.34Z" fill="#1AA0C0"/><path d="M102.18,404.01L107.78,404.01L104.98,410.21Z" fill="#1AA0C0"/><path d="M108.43,395.68L114.03,395.68L111.23,401.88Z" fill="#1AA0C0"/><path d="M119.38,387.27L124.98,387.27L122.18,393.47Z" fill="#1AA0C0"/><path d="M135.02,393.07L140.62,393.07L137.82,399.27Z" fill="#1AA0C0"/><path d="M150.66,402.09L156.26,402.09L153.46,408.29Z" fill="#1AA0C0"/><path d="M166.30,410.04L171.90,410.04L169.10,416.24Z" fill="#1AA0C0"/><path d="M189.76,392.22L195.36,392.22L192.56,398.42Z" fill="#1AA0C0"/><path d="M221.04,379.59L226.64,379.59L223.84,385.79Z" fill="#1AA0C0"/><path d="M252.32,369.87L257.92,369.87L255.12,376.07Z" fill="#1AA0C0"/><path d="M283.60,327.88L289.20,327.88L286.40,334.08Z" fill="#1AA0C0"/><path d="M330.52,339.61L336.12,339.61L333.32,345.81Z" fill="#1AA0C0"/></g>
<g clip-path="url(#cr)"><path d="M53.40,401.50 L58.00,391.00 L64.90,386.50 L70.00,389.00 L76.00,392.00 L79.95,395.22 L86.21,395.22 L92.46,397.80 L98.72,404.14 L104.98,407.01 L111.23,398.68 L122.18,389.47 L137.82,395.22 L153.46,404.14 L169.10,413.04 L192.56,395.22 L223.84,382.59 L255.12,373.53 L286.40,337.20 L333.32,351.92" fill="none" stroke="#1AA0C0" stroke-width="1.2" stroke-dasharray="3.5,1.8,1,1.8"/><path d="M50.60,398.50L56.20,398.50L53.40,404.70Z" fill="#1AA0C0"/><path d="M77.15,392.22L82.75,392.22L79.95,398.42Z" fill="#1AA0C0"/><path d="M83.41,392.22L89.01,392.22L86.21,398.42Z" fill="#1AA0C0"/><path d="M89.66,394.80L95.26,394.80L92.46,401.00Z" fill="#1AA0C0"/><path d="M95.92,401.14L101.52,401.14L98.72,407.34Z" fill="#1AA0C0"/><path d="M102.18,404.01L107.78,404.01L104.98,410.21Z" fill="#1AA0C0"/><path d="M108.43,395.68L114.03,395.68L111.23,401.88Z" fill="#1AA0C0"/><path d="M119.38,386.47L124.98,386.47L122.18,392.67Z" fill="#1AA0C0"/><path d="M135.02,392.22L140.62,392.22L137.82,398.42Z" fill="#1AA0C0"/><path d="M150.66,401.14L156.26,401.14L153.46,407.34Z" fill="#1AA0C0"/><path d="M166.30,410.04L171.90,410.04L169.10,416.24Z" fill="#1AA0C0"/><path d="M189.76,392.22L195.36,392.22L192.56,398.42Z" fill="#1AA0C0"/><path d="M221.04,379.59L226.64,379.59L223.84,385.79Z" fill="#1AA0C0"/><path d="M252.32,370.53L257.92,370.53L255.12,376.73Z" fill="#1AA0C0"/><path d="M283.60,334.20L289.20,334.20L286.40,340.40Z" fill="#1AA0C0"/><path d="M330.52,348.92L336.12,348.92L333.32,355.12Z" fill="#1AA0C0"/><path d="M51.00,398.60 L51.60,393.40 L53.30,390.70 L56.90,388.90 L59.30,387.60 L60.50,384.00 L66.80,384.00 L68.20,388.00 L69.50,390.60 L75.50,391.00 L77.60,393.40 L80.00,396.00 L81.20,398.60Z" fill="#1AA0C0"/><line x1="45.5" y1="397.80" x2="81" y2="397.80" stroke="#000" stroke-width="1"/></g>
<path d="M45.5,306.18h6M371.0,306.18h-5M45.5,297.83h6M371.0,297.83h-5M45.5,291.91h6M371.0,291.91h-5M45.5,287.32h6M371.0,287.32h-5M45.5,283.57h6M371.0,283.57h-5M45.5,280.39h6M371.0,280.39h-5M45.5,277.64h6M371.0,277.64h-5M45.5,275.22h6M371.0,275.22h-5M45.5,273.05h11.5M371.0,273.05h-10M45.5,258.78h6M371.0,258.78h-5M45.5,250.43h6M371.0,250.43h-5M45.5,244.51h6M371.0,244.51h-5M45.5,239.92h6M371.0,239.92h-5M45.5,236.17h6M371.0,236.17h-5M45.5,232.99h6M371.0,232.99h-5M45.5,230.24h6M371.0,230.24h-5M45.5,227.82h6M371.0,227.82h-5M45.5,225.65h11.5M371.0,225.65h-10M45.5,211.38h6M371.0,211.38h-5M45.5,203.03h6M371.0,203.03h-5M45.5,197.11h6M371.0,197.11h-5M45.5,192.52h6M371.0,192.52h-5M45.5,188.77h6M371.0,188.77h-5M45.5,185.59h6M371.0,185.59h-5M45.5,182.84h6M371.0,182.84h-5M45.5,180.42h6M371.0,180.42h-5M45.5,178.25h11.5M371.0,178.25h-10M45.5,163.98h6M371.0,163.98h-5M45.5,155.63h6M371.0,155.63h-5M45.5,149.71h6M371.0,149.71h-5M45.5,145.12h6M371.0,145.12h-5M45.5,141.37h6M371.0,141.37h-5M45.5,138.19h6M371.0,138.19h-5M45.5,135.44h6M371.0,135.44h-5M45.5,133.02h6M371.0,133.02h-5M45.5,130.85h11.5M371.0,130.85h-10M45.5,116.58h6M371.0,116.58h-5M45.5,108.23h6M371.0,108.23h-5M45.5,102.31h6M371.0,102.31h-5M45.5,97.72h6M371.0,97.72h-5M45.5,93.97h6M371.0,93.97h-5M45.5,90.79h6M371.0,90.79h-5M45.5,88.04h6M371.0,88.04h-5M45.5,85.62h6M371.0,85.62h-5M45.5,83.45h11.5M371.0,83.45h-10M45.5,69.18h6M371.0,69.18h-5M45.5,60.83h6M371.0,60.83h-5M45.5,54.91h6M371.0,54.91h-5M45.5,50.32h6M371.0,50.32h-5M45.5,46.57h6M371.0,46.57h-5M45.5,43.39h6M371.0,43.39h-5M45.5,40.64h6M371.0,40.64h-5M45.5,38.22h6M371.0,38.22h-5M45.5,36.05h11.5M371.0,36.05h-10M45.5,21.78h6M371.0,21.78h-5M45.5,458.40h7.5M371.0,458.40h-7.5M45.5,442.46h5M371.0,442.46h-5M45.5,428.98h5M371.0,428.98h-5M45.5,417.31h5M371.0,417.31h-5M45.5,407.01h5M371.0,407.01h-5M45.5,397.80h7.5M371.0,397.80h-7.5M45.5,389.47h5M371.0,389.47h-5M45.5,381.86h5M371.0,381.86h-5M45.5,374.86h5M371.0,374.86h-5M45.5,368.38h5M371.0,368.38h-5M45.5,362.35h5M371.0,362.35h-5M45.5,356.71h5M371.0,356.71h-5M45.5,351.41h5M371.0,351.41h-5M45.5,346.41h5M371.0,346.41h-5M45.5,341.68h5M371.0,341.68h-5M45.5,337.20h7.5M371.0,337.20h-7.5M45.5,332.93h5M371.0,332.93h-5M45.5,328.87h5M371.0,328.87h-5M45.5,324.98h5M371.0,324.98h-5M45.5,321.26h5M371.0,321.26h-5M45.5,317.69h5M371.0,317.69h-5M51.80,17.5v8M51.80,317.5v-8M51.80,317.5v5M51.80,477.5v-5M67.44,17.5v2.2M67.44,317.5v-2.2M67.44,317.5v1.3M67.44,477.5v-1.3M83.08,17.5v4M83.08,317.5v-4M83.08,317.5v2.5M83.08,477.5v-2.5M98.72,17.5v2.2M98.72,317.5v-2.2M98.72,317.5v1.3M98.72,477.5v-1.3M114.36,17.5v4M114.36,317.5v-4M114.36,317.5v2.5M114.36,477.5v-2.5M130.00,17.5v2.2M130.00,317.5v-2.2M130.00,317.5v1.3M130.00,477.5v-1.3M145.64,17.5v4M145.64,317.5v-4M145.64,317.5v2.5M145.64,477.5v-2.5M161.28,17.5v2.2M161.28,317.5v-2.2M161.28,317.5v1.3M161.28,477.5v-1.3M176.92,17.5v4M176.92,317.5v-4M176.92,317.5v2.5M176.92,477.5v-2.5M192.56,17.5v2.2M192.56,317.5v-2.2M192.56,317.5v1.3M192.56,477.5v-1.3M208.20,17.5v8M208.20,317.5v-8M208.20,317.5v5M208.20,477.5v-5M223.84,17.5v2.2M223.84,317.5v-2.2M223.84,317.5v1.3M223.84,477.5v-1.3M239.48,17.5v4M239.48,317.5v-4M239.48,317.5v2.5M239.48,477.5v-2.5M255.12,17.5v2.2M255.12,317.5v-2.2M255.12,317.5v1.3M255.12,477.5v-1.3M270.76,17.5v4M270.76,317.5v-4M270.76,317.5v2.5M270.76,477.5v-2.5M286.40,17.5v2.2M286.40,317.5v-2.2M286.40,317.5v1.3M286.40,477.5v-1.3M302.04,17.5v4M302.04,317.5v-4M302.04,317.5v2.5M302.04,477.5v-2.5M317.68,17.5v2.2M317.68,317.5v-2.2M317.68,317.5v1.3M317.68,477.5v-1.3M333.32,17.5v4M333.32,317.5v-4M333.32,317.5v2.5M333.32,477.5v-2.5M348.96,17.5v2.2M348.96,317.5v-2.2M348.96,317.5v1.3M348.96,477.5v-1.3M364.60,17.5v8M364.60,317.5v-8M364.60,317.5v5M364.60,477.5v-5" stroke="#000" stroke-width="1.1" fill="none"/>
<rect x="45.5" y="17.5" width="325.5" height="460.0" fill="none" stroke="#000" stroke-width="1.3"/>
<line x1="45.5" y1="317.5" x2="371.0" y2="317.5" stroke="#000" stroke-width="1.3"/>
<text x="50" y="14.3" font-size="12">200 GeV ee</text><text x="366.8" y="14.3" font-size="12" text-anchor="end">γ*/Z (Hadronic)</text><text x="71.5" y="41.3" font-size="11.7">In-plane p</text><text x="124.2" y="47" font-size="7">T</text><text x="131.2" y="41.3" font-size="12.15">in GeV w.r.t. thrust axes (E</text><text x="271" y="47.4" font-size="7.5">CMS</text><text x="288.5" y="41.3" font-size="12">=200 GeV)</text><text x="93.5" y="201.6" font-size="9.5">ALEPH</text><text x="93.5" y="214.5" font-size="9.5">Herwig++ 2.7.1 default</text><text x="93.5" y="227.4" font-size="9.5">Herwig 7.2.1 default</text><text x="93.5" y="240.3" font-size="9.5">Pythia 8.315 default</text><text x="93.5" y="253.2" font-size="9.5">Pythia 8.315 vincia-default</text><text x="93.5" y="266.1" font-size="9.5">Sherpa 2.2.9 default</text><text x="93.5" y="279.0" font-size="9.5">Vincia 1.1.03_8.185 default</text><rect x="73.50" y="195.40" width="5.8" height="5.8" fill="#000"/><path d="M64,211.2H88.7" stroke="#B5651D" stroke-width="1.2" stroke-dasharray="3,2"/><circle cx="76.40" cy="211.20" r="2.6" fill="none" stroke="#B5651D" stroke-width="1"/><path d="M64,224.1H88.7" stroke="#4AAA2A" stroke-width="1.2" stroke-dasharray="3,2"/><rect x="73.80" y="221.50" width="5.2" height="5.2" fill="none" stroke="#4AAA2A" stroke-width="1"/><path d="M64,237.0H88.7" stroke="#0000FF" stroke-width="1.5"/><path d="M76.40,233.70L79.10,239.90L73.70,239.90Z" fill="#0000FF"/><path d="M64,249.9H88.7" stroke="#1AA0C0" stroke-width="1.2" stroke-dasharray="3.5,1.8,1,1.8"/><path d="M73.60,246.90L79.20,246.90L76.40,253.10Z" fill="#1AA0C0"/><path d="M64,262.8H88.7" stroke="#FF0000" stroke-width="1.2" stroke-dasharray="1.4,0.9"/><path d="M76.40,259.60L78.20,262.80L76.40,266.00L74.60,262.80Z" fill="#FF0000"/><path d="M64,275.7H88.7" stroke="#1AA0C0" stroke-width="1.2" stroke-dasharray="3.5,1.8,1,1.8"/><path d="M73.60,272.70L79.20,272.70L76.40,278.90Z" fill="#1AA0C0"/><text x="165" y="302.5" font-size="7.8" fill="#999">(ALEPH_2004_I636645)</text><text transform="translate(381,126.6) rotate(-90)" font-size="9.5" fill="#6a6a6a">Rivet 4.1.0, ≥ 600k events</text><text transform="translate(380.6,313.5) rotate(-90)" font-size="9.4" fill="#6a6a6a">mcplots.cern.ch [arXiv:2401.10621]</text><text x="34.5" y="40.85" font-size="10" text-anchor="end">10</text><text x="34.8" y="35.75" font-size="7">3</text><text x="34.5" y="88.25" font-size="10" text-anchor="end">10</text><text x="34.8" y="83.15" font-size="7">2</text><text x="40" y="134.85" font-size="11.5" text-anchor="end">10</text><text x="40" y="182.25" font-size="11.5" text-anchor="end">1</text><text x="32.7" y="230.45" font-size="10" text-anchor="end">10</text><text x="33.2" y="225.35" font-size="7">−1</text><text x="31.3" y="277.85" font-size="10" text-anchor="end">10</text><text x="31.8" y="272.75" font-size="7">−2</text><text x="38.5" y="341.20" font-size="11" text-anchor="end">2</text><text x="38.5" y="401.80" font-size="11" text-anchor="end">1</text><text x="38.5" y="462.40" font-size="11" text-anchor="end">0.5</text><text x="373.8" y="341.20" font-size="11">2</text><text x="373.8" y="402.30" font-size="11">1</text><text x="373.8" y="462.40" font-size="11">0.5</text><text x="51.80" y="489.2" font-size="11" text-anchor="middle">0</text><text x="208.20" y="489.2" font-size="11" text-anchor="middle">5</text><text x="371.5" y="489.2" font-size="11" text-anchor="end">10</text><text x="324.2" y="502.1" font-size="12">p</text><text x="331.4" y="498" font-size="8">in</text><text x="331.2" y="508.7" font-size="8">T</text><text x="371.5" y="502.1" font-size="12" text-anchor="end">/ GeV</text><text transform="translate(14.7,71.6) rotate(-90)" font-size="12">N</text><text transform="translate(14.7,54) rotate(-90)" font-size="12">dσ/dp</text><text transform="translate(9.3,22.9) rotate(-90)" font-size="6.8">in</text><text transform="translate(21.8,22.6) rotate(-90)" font-size="7.5">T</text><text transform="translate(19,396.5) rotate(-90)" font-size="9" text-anchor="middle">Ratio to ALEPH</text>
</svg></body></html>
